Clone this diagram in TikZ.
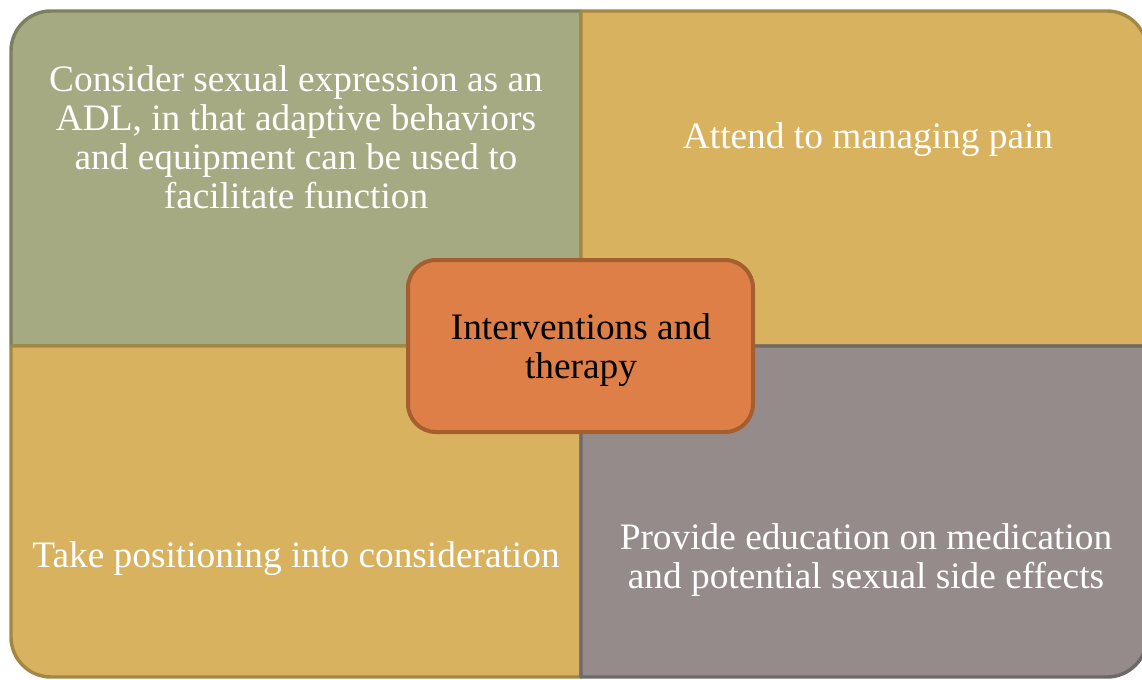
\documentclass[tikz,border=0pt]{standalone}
\usepackage{fontspec}
\setmainfont{Liberation Serif}
\definecolor{gfill}{HTML}{A5AA82}
\definecolor{gline}{HTML}{7D8060}
\definecolor{yfill}{HTML}{D8B25E}
\definecolor{yline}{HTML}{A38843}
\definecolor{pfill}{HTML}{958B8B}
\definecolor{pline}{HTML}{6E6869}
\definecolor{ofill}{HTML}{DD7F46}
\definecolor{oline}{HTML}{A55E30}
\tikzset{
  quad/.style={line width=2.6pt, line join=round},
  qtext/.style={text=white, align=center, font=\fontsize{28}{29.2}\selectfont, inner sep=0pt},
  hub/.style={draw=oline, fill=ofill, line width=3pt, rounded corners=21pt,
    minimum width=258.75pt, minimum height=129pt, inner sep=0pt},
  hubtext/.style={align=center, font=\fontsize{28}{29.2}\selectfont, text=black, inner sep=0pt}
}
\begin{document}
\begin{tikzpicture}[x=0.75pt,y=-0.75pt]
\useasboundingbox (0,0) rectangle (1142,679);
% top-left
\draw[quad, draw=gline, fill=gfill] (581,346) -- (11,346) -- (11,51) arc (180:270:40) -- (581,11) -- cycle;
% top-right
\draw[quad, draw=yline, fill=yfill] (581,346) -- (581,11) -- (1107,11) arc (270:360:40) -- (1147,346) -- cycle;
% bottom-left
\draw[quad, draw=yline, fill=yfill] (581,346) -- (11,346) -- (11,637) arc (180:90:40) -- (581,677) -- cycle;
% bottom-right
\draw[quad, draw=pline, fill=pfill] (581,346) -- (1147,346) -- (1147,637) arc (0:90:40) -- (581,677) -- cycle;
% texts
\node[qtext] (tl) at (296,137.5) {Consider sexual expression as an\\ADL, in that adaptive behaviors\\and equipment can be used to\\facilitate function};
\node[qtext] (tr) at (868,140) {Attend to managing pain};
\node[qtext] (bl) at (296,559) {Take positioning into consideration};
\node[qtext] (br) at (866,560) {Provide education on medication\\and potential sexual side effects};
% hub
\node[hub] (c) at (580.5,346) {};
\node[hubtext] (ct) at (581,350) {Interventions and\\therapy};
\end{tikzpicture}
\end{document}
